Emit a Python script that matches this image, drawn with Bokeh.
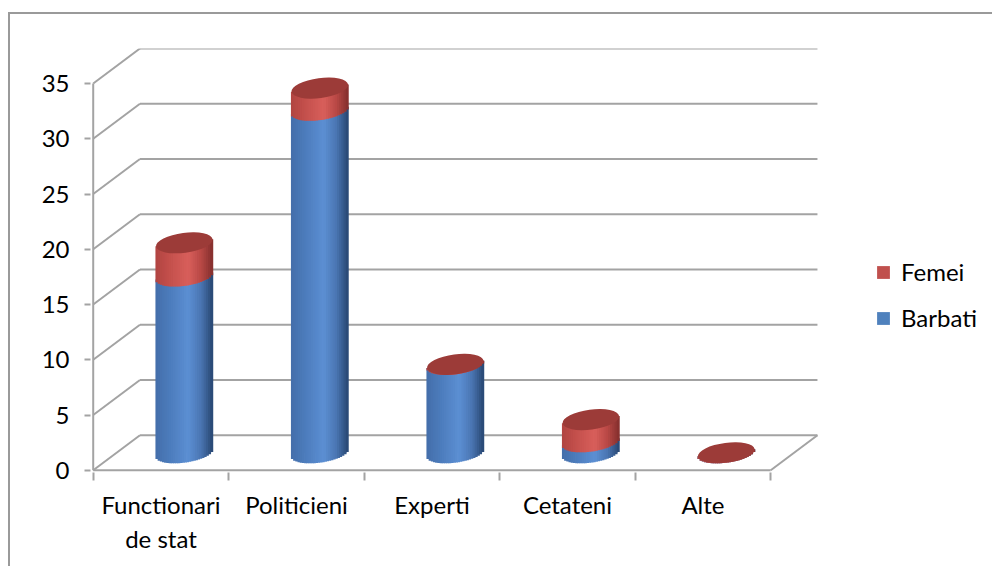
import numpy as np
from bokeh.plotting import figure
from bokeh.models import Range1d, FixedTicker, Legend, LegendItem, ColumnDataSource
from bokeh.embed import file_html
from bokeh.resources import INLINE

# ---------------- data ----------------
categories = ["Functionari de stat", "Politicieni", "Experti", "Cetateni", "Alte"]
category_labels = ["Functionari\nde stat", "Politicieni", "Experti", "Cetateni", "Alte"]
barbati = [16, 31, 8, 1, 0]
femei = [3, 2, 0, 2, 0]
y_ticks = [0, 5, 10, 15, 20, 25, 30, 35]
series_names = ["Barbati", "Femei"]

# ---------------- style / geometry ----------------
FONT = "Lato"
FS = "24px"
GRID = "#a3a3a3"
PXX, PXY = 135.5, 11.05         # pixels per data unit (x, y)
DX, DY = 0.345, 3.17            # depth offset of the back wall (data units)
Y_TOP = 35
R = 0.2104                      # cylinder radius (x data units)
HH = 0.90                       # half height of the elliptic cap (y data units)
TILT = 0.33                     # right side of the caps is higher (y data units)
N_STRIPES = 26

blue_stops = [(-1.0, (68, 110, 170)), (-0.5, (76, 124, 188)), (0.15, (92, 143, 211)),
              (0.6, (74, 117, 178)), (1.0, (40, 70, 114))]
red_stops = [(-1.0, (176, 68, 65)), (-0.5, (196, 80, 76)), (0.15, (216, 95, 91)),
             (0.6, (184, 72, 69)), (1.0, (132, 47, 45))]
CAP_RED = "#9c3b38"
LEG_BLUE = "#4f81bd"
LEG_RED = "#c0504d"


def shade(stops, u):
    us = [s[0] for s in stops]
    out = []
    for c in range(3):
        out.append(int(round(np.interp(u, us, [s[1][c] for s in stops]))))
    return "#%02x%02x%02x" % tuple(out)


W, H = 984, 554
BL, BT, BB = 80, 34, 96
x0 = -0.02
x_end = x0 + (W - BL) / PXX
y0 = -0.2
y_end = y0 + (H - BT - BB) / PXY

# canvas placed at (10, 14) in the page because of margin + 2px border
p = figure(width=W, height=H, output_backend="svg", toolbar_location=None,
           x_range=Range1d(x0, x_end), y_range=Range1d(y0, y_end),
           min_border_left=BL, min_border_right=0, min_border_top=BT, min_border_bottom=BB)
p.margin = (12, 0, 0, 8)
p.styles = {"border-left": "2px solid #9a9a9a", "border-top": "2px solid #9a9a9a"}
p.outline_line_color = None
p.xgrid.visible = False
p.ygrid.visible = False
p.background_fill_color = "white"
p.border_fill_color = "white"

# ---------------- walls / gridlines ----------------
yt = np.array(y_ticks, dtype=float)
p.segment(x0=np.full(len(yt), DX), y0=yt + DY, x1=np.full(len(yt), 5 + DX), y1=yt + DY,
          line_color=GRID, line_width=2)
p.segment(x0=np.zeros(len(yt)), y0=yt, x1=np.full(len(yt), DX), y1=yt + DY,
          line_color=GRID, line_width=2)
p.segment(x0=[5, 0, 0], y0=[0, 0, 0], x1=[5 + DX, 5, 0], y1=[DY, 0, Y_TOP],
          line_color=GRID, line_width=2)

# ---------------- cylinders ----------------
n = len(categories)
cx = np.arange(n) + 0.5 + DX / 2.0
base = DY / 2.0
b = np.array(barbati, dtype=float)
f = np.array(femei, dtype=float)

r_bar = p.vbar(x=cx, width=2 * R * 0.94, bottom=base, top=base + b,
               fill_color=LEG_BLUE, line_color=None)
r_fem = p.vbar(x=cx, width=2 * R * 0.94, bottom=base + b, top=base + b + f,
               fill_color=LEG_RED, line_color=None)

u = -1 + (2 * np.arange(N_STRIPES) + 1) / N_STRIPES
sw = 2 * R / N_STRIPES * 1.35


def stripes(lo, hi, stops):
    xs, bots, tops, cols = [], [], [], []
    for i in range(n):
        for uk in u:
            curve = -HH * np.sqrt(max(0.0, 1 - uk * uk)) + TILT * uk
            xs.append(cx[i] + uk * R)
            bots.append(lo[i] + curve)
            tops.append(hi[i] + TILT * uk)
            cols.append(shade(stops, uk))
    src = ColumnDataSource(dict(x=xs, bottom=bots, top=tops, color=cols))
    p.vbar(x="x", width=sw, bottom="bottom", top="top", fill_color="color",
           line_color=None, source=src)


stripes(np.full(n, base), base + b, blue_stops)
stripes(base + b, base + b + f, red_stops)

p.ellipse(x=cx, y=base + b + f, width=2 * R * PXX, height=2 * HH * PXY,
          width_units="screen", height_units="screen", angle=0.13,
          fill_color=CAP_RED, line_color=None)

# ---------------- axes ----------------
p.yaxis.ticker = FixedTicker(ticks=y_ticks)
p.yaxis.axis_line_color = None
p.yaxis.major_tick_out = 6
p.yaxis.major_tick_in = 0
p.yaxis.major_tick_line_color = GRID
p.yaxis.major_tick_line_width = 2
p.yaxis.minor_tick_line_color = None
p.yaxis.major_label_text_font = FONT
p.yaxis.major_label_text_font_size = FS
p.yaxis.major_label_text_color = "black"
p.yaxis.major_label_standoff = 15

centers = [i + 0.5 for i in range(n)]
p.xaxis.ticker = FixedTicker(ticks=centers, minor_ticks=list(range(n + 1)))
p.xaxis.major_label_overrides = {c: lab for c, lab in zip(centers, category_labels)}
p.xaxis.axis_line_color = None
p.xaxis.major_tick_line_color = None
p.xaxis.minor_tick_out = 8
p.xaxis.minor_tick_in = 0
p.xaxis.minor_tick_line_color = GRID
p.xaxis.minor_tick_line_width = 2
p.xaxis.major_label_text_font = FONT
p.xaxis.major_label_text_font_size = FS
p.xaxis.major_label_text_color = "black"
p.xaxis.major_label_standoff = 9

# ---------------- legend ----------------
legend = Legend(items=[LegendItem(label=series_names[1], renderers=[r_fem]),
                       LegendItem(label=series_names[0], renderers=[r_bar])],
                location=(785, 140), orientation="vertical",
                glyph_width=16, glyph_height=16, label_standoff=10, spacing=17,
                padding=0, margin=0, border_line_color=None, background_fill_alpha=0,
                label_text_font=FONT, label_text_font_size=FS, label_text_color="black")
p.add_layout(legend, "center")

open("out.html", "w").write(file_html(p, INLINE))
